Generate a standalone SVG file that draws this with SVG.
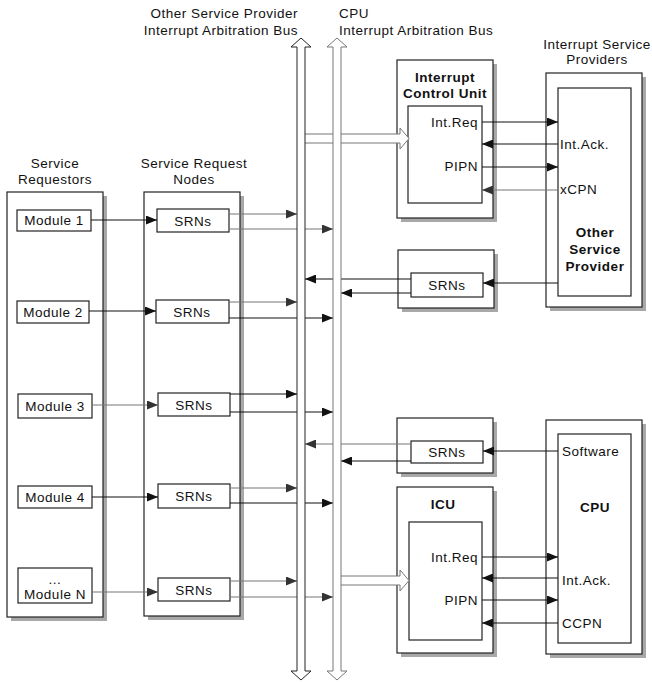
<svg xmlns="http://www.w3.org/2000/svg" width="652" height="682" viewBox="0 0 652 682">
<style>
text{font-family:"Liberation Sans",Arial,sans-serif;font-size:13.5px;letter-spacing:0.5px;fill:#111}
.b{font-weight:bold}
.m{text-anchor:middle}
.e{text-anchor:end}
.box{fill:#fff;stroke:#222;stroke-width:1.2}
.sh{fill:#a8a8a8}
.ln{stroke:#111;stroke-width:1.2;fill:none;marker-end:url(#ah)}
.lg{stroke:#777;stroke-width:1.2;fill:none;marker-end:url(#ag)}
.pipe{fill:#fff;stroke:#222;stroke-width:1}
.pipeg{fill:#fff;stroke:#777;stroke-width:1}
</style>
<defs>
<marker id="ah" markerUnits="userSpaceOnUse" markerWidth="11" markerHeight="9" refX="11" refY="4.5" orient="auto"><path d="M0,0 L11,4.5 L0,9 z" fill="#111"/></marker>
<marker id="ag" markerUnits="userSpaceOnUse" markerWidth="11" markerHeight="9" refX="11" refY="4.5" orient="auto"><path d="M0,0 L11,4.5 L0,9 z" fill="#333"/></marker>
</defs>
<rect width="652" height="682" fill="#fff"/>

<!-- titles -->
<g id="labels">
<text x="298" y="18" class="e">Other Service Provider</text>
<text x="298" y="35" class="e">Interrupt Arbitration Bus</text>
<text x="339" y="18">CPU</text>
<text x="339" y="35">Interrupt Arbitration Bus</text>
<text x="597" y="49" class="m">Interrupt Service</text>
<text x="597" y="64" class="m">Providers</text>
<text x="55" y="168" class="m">Service</text>
<text x="55" y="184" class="m">Requestors</text>
<text x="194" y="168" class="m">Service Request</text>
<text x="194" y="184" class="m">Nodes</text>
</g>

<!-- Service Requestors -->
<g id="service-requestors">
<rect x="11" y="196" width="96" height="425" class="sh"/>
<rect x="7" y="192" width="96" height="425" class="box"/>
<g id="module1"><rect x="17" y="210" width="74" height="21" class="box"/><text x="54" y="225" class="m">Module 1</text></g>
<g id="module2"><rect x="17" y="301" width="72" height="22" class="box"/><text x="53" y="317" class="m">Module 2</text></g>
<g id="module3"><rect x="18" y="394" width="74" height="24" class="box"/><text x="55" y="411" class="m">Module 3</text></g>
<g id="module4"><rect x="18" y="486" width="74" height="22" class="box"/><text x="55" y="502" class="m">Module 4</text></g>
<g id="moduleN"><rect x="18" y="568" width="74" height="35" class="box"/><text x="55" y="584" class="m">...</text><text x="55" y="599" class="m">Module N</text></g>
</g>

<!-- Service Request Nodes -->
<g id="service-request-nodes">
<rect x="148" y="196" width="96" height="424" class="sh"/>
<rect x="144" y="192" width="96" height="424" class="box"/>
<g id="srn1"><rect x="157" y="209" width="72" height="23" class="box"/><text x="193" y="226" class="m">SRNs</text></g>
<g id="srn2"><rect x="156" y="300" width="73" height="23" class="box"/><text x="192" y="317" class="m">SRNs</text></g>
<g id="srn3"><rect x="158" y="393" width="72" height="23" class="box"/><text x="194" y="410" class="m">SRNs</text></g>
<g id="srn4"><rect x="158" y="484" width="72" height="24" class="box"/><text x="194" y="501" class="m">SRNs</text></g>
<g id="srn5"><rect x="158" y="578" width="72" height="23" class="box"/><text x="194" y="595" class="m">SRNs</text></g>
</g>

<!-- Interrupt Control Unit -->
<g id="icu-top">
<rect x="401" y="64" width="96" height="158" class="sh"/>
<rect x="397" y="60" width="96" height="158" class="box"/>
<text x="445" y="82" class="m b">Interrupt</text>
<text x="445" y="98" class="m b">Control Unit</text>
<rect x="408" y="106" width="74" height="97" class="box"/>
<text x="478" y="127" class="e">Int.Req</text>
<text x="478" y="171" class="e">PIPN</text>
</g>

<!-- Other service provider -->
<g id="other-service-provider">
<rect x="550" y="77" width="96" height="234" class="sh"/>
<rect x="546" y="73" width="96" height="234" class="box"/>
<rect x="558" y="88" width="73" height="208" class="box"/>
<text x="560" y="149">Int.Ack.</text>
<text x="560" y="194">xCPN</text>
<text x="595" y="237" class="m b">Other</text>
<text x="595" y="254" class="m b">Service</text>
<text x="595" y="271" class="m b">Provider</text>
</g>

<!-- SRN for other service provider -->
<g id="srn-osp">
<rect x="402" y="254" width="96" height="58" class="sh"/>
<rect x="398" y="250" width="96" height="58" class="box"/>
<rect x="411" y="273" width="72" height="24" class="box"/>
<text x="447" y="290" class="m">SRNs</text>
</g>

<!-- SRN for software -->
<g id="srn-sw">
<rect x="401" y="422" width="96" height="55" class="sh"/>
<rect x="397" y="418" width="96" height="55" class="box"/>
<rect x="411" y="441" width="72" height="22" class="box"/>
<text x="447" y="457" class="m">SRNs</text>
</g>

<!-- ICU -->
<g id="icu">
<rect x="401" y="491" width="96" height="166" class="sh"/>
<rect x="397" y="487" width="96" height="166" class="box"/>
<text x="443" y="509" class="m b">ICU</text>
<rect x="409" y="522" width="73" height="118" class="box"/>
<text x="478" y="562" class="e">Int.Req</text>
<text x="478" y="605" class="e">PIPN</text>
</g>

<!-- CPU -->
<g id="cpu">
<rect x="550" y="424" width="96" height="234" class="sh"/>
<rect x="546" y="420" width="96" height="234" class="box"/>
<rect x="558" y="434" width="73" height="209" class="box"/>
<text x="562" y="456">Software</text>
<text x="595" y="512" class="m b">CPU</text>
<text x="562" y="585">Int.Ack.</text>
<text x="562" y="628">CCPN</text>
</g>

<!-- connectors -->
<g id="connectors">
<line x1="91" y1="220" x2="157" y2="220" class="ln"/>
<line x1="89" y1="311" x2="156" y2="311" class="ln"/>
<line x1="92" y1="405" x2="158" y2="405" class="lg"/>
<line x1="92" y1="497" x2="158" y2="497" class="ln"/>
<line x1="92" y1="592" x2="158" y2="592" class="lg"/>

<line x1="229" y1="214" x2="297" y2="214" class="lg"/>
<line x1="229" y1="229" x2="333" y2="229" class="lg"/>
<line x1="229" y1="302" x2="297" y2="302" class="lg"/>
<line x1="229" y1="318" x2="333" y2="318" class="ln"/>
<line x1="230" y1="394" x2="297" y2="394" class="ln"/>
<line x1="230" y1="412" x2="333" y2="412" class="ln"/>
<line x1="230" y1="488" x2="297" y2="488" class="lg"/>
<line x1="230" y1="503" x2="333" y2="503" class="ln"/>
<line x1="230" y1="581" x2="297" y2="581" class="lg"/>
<line x1="230" y1="597" x2="333" y2="597" class="lg"/>

<line x1="411" y1="279" x2="305" y2="279" class="ln"/>
<line x1="411" y1="293" x2="341" y2="293" class="ln"/>
<line x1="558" y1="283" x2="483" y2="283" class="ln"/>

<line x1="411" y1="444" x2="305" y2="444" class="lg"/>
<line x1="411" y1="461" x2="341" y2="461" class="ln"/>
<line x1="558" y1="451" x2="483" y2="451" class="ln"/>

<line x1="482" y1="122" x2="558" y2="122" class="ln"/>
<line x1="558" y1="144" x2="482" y2="144" class="ln"/>
<line x1="482" y1="167" x2="558" y2="167" class="ln"/>
<line x1="558" y1="190" x2="482" y2="190" class="lg"/>

<line x1="482" y1="557" x2="558" y2="557" class="ln"/>
<line x1="558" y1="578" x2="482" y2="578" class="ln"/>
<line x1="482" y1="600" x2="558" y2="600" class="ln"/>
<line x1="558" y1="623" x2="482" y2="623" class="ln"/>

<!-- fat arrows to ICUs -->
<path d="M305,134 L400,134 L400,128 L409,138.5 L400,149 L400,143 L305,143" class="pipeg"/>
<path d="M341,576 L400,576 L400,570 L409,580.5 L400,591 L400,585 L341,585" class="pipeg"/>

<!-- buses -->
<path id="bus-osp" d="M297,47 L291,47 L301,38 L311,47 L305,47 L305,671 L311,671 L301,680 L291,671 L297,671 Z" class="pipe"/>
<path id="bus-cpu" d="M333,47 L327,47 L337,38 L347,47 L341,47 L341,671 L347,671 L337,680 L327,671 L333,671 Z" class="pipeg"/>
</g>
</svg>
